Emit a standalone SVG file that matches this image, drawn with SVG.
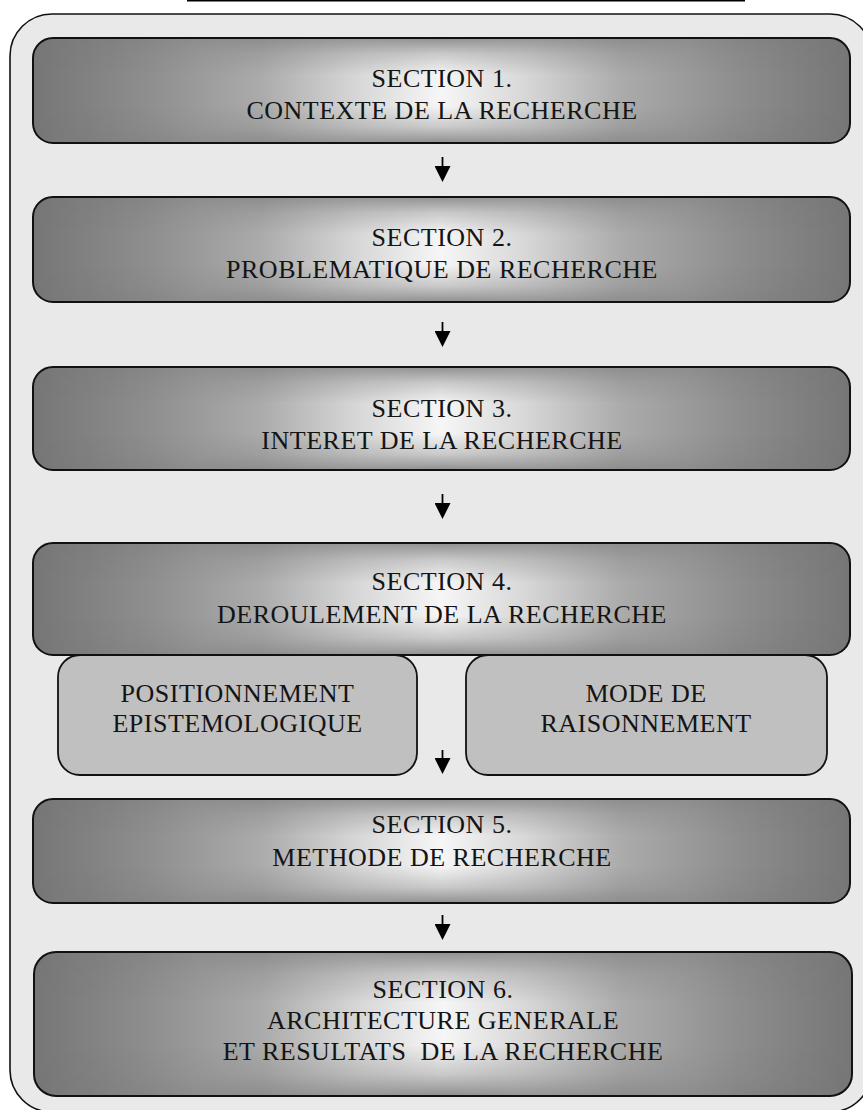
<svg xmlns="http://www.w3.org/2000/svg" width="863" height="1110" viewBox="0 0 863 1110">
  <defs>
    <linearGradient id="secH" x1="0" y1="0" x2="1" y2="0">
      <stop offset="0" stop-color="#767676"/>
      <stop offset="0.14" stop-color="#8e8e8e"/>
      <stop offset="0.28" stop-color="#ababab"/>
      <stop offset="0.40" stop-color="#d8d8d8"/>
      <stop offset="0.5" stop-color="#f6f6f6"/>
      <stop offset="0.60" stop-color="#d8d8d8"/>
      <stop offset="0.72" stop-color="#ababab"/>
      <stop offset="0.86" stop-color="#8e8e8e"/>
      <stop offset="1" stop-color="#767676"/>
    </linearGradient>
    <linearGradient id="secV" x1="0" y1="0" x2="0" y2="1">
      <stop offset="0" stop-color="#000" stop-opacity="0.42"/>
      <stop offset="0.15" stop-color="#000" stop-opacity="0.18"/>
      <stop offset="0.35" stop-color="#000" stop-opacity="0"/>
      <stop offset="0.65" stop-color="#000" stop-opacity="0"/>
      <stop offset="0.85" stop-color="#000" stop-opacity="0.18"/>
      <stop offset="1" stop-color="#000" stop-opacity="0.42"/>
    </linearGradient>
    <linearGradient id="maskH" x1="0" y1="0" x2="1" y2="0">
      <stop offset="0" stop-color="#000"/>
      <stop offset="0.2" stop-color="#333"/>
      <stop offset="0.5" stop-color="#fff"/>
      <stop offset="0.8" stop-color="#333"/>
      <stop offset="1" stop-color="#000"/>
    </linearGradient>
    <mask id="centerMask" maskContentUnits="objectBoundingBox">
      <rect x="0" y="0" width="1" height="1" fill="url(#maskH)"/>
    </mask>
    <marker id="arrowHead" viewBox="0 0 16 16" refX="0" refY="8" markerWidth="16" markerHeight="16" markerUnits="userSpaceOnUse" orient="auto">
      <path d="M0,0 L16,8 L0,16 Z" fill="#000"/>
    </marker>
  </defs>
  <style>
    .outer { fill: #e9e9e9; stroke: #111; stroke-width: 1.6; }
    .sec { fill: url(#secH); stroke: none; }
    .secShade { fill: url(#secV); stroke: none; mask: url(#centerMask); }
    .secEdge { fill: none; stroke: #111; stroke-width: 2; }
    .sub { fill: #c0c0c0; stroke: #111; stroke-width: 1.8; }
    .lbl { font-family: "Liberation Serif", "Times New Roman", serif; font-size: 26px; fill: #141414; text-anchor: middle; letter-spacing: 0.5px; }
    .conn line { stroke: #000; stroke-width: 1.8; }
  </style>

  <line x1="187" y1="0.8" x2="745" y2="0.8" stroke="#000" stroke-width="1.6"/>

  <rect class="outer" x="10" y="14" width="862" height="1098" rx="42" ry="42"/>

  <g id="section1">
    <rect class="sec" x="33" y="38" width="817" height="105" rx="20" ry="20"/>
    <rect class="secShade" x="33" y="38" width="817" height="105" rx="20" ry="20"/>
    <rect class="secEdge" x="33" y="38" width="817" height="105" rx="20" ry="20"/>
    <text class="lbl" x="442" y="87">SECTION 1.</text>
    <text class="lbl" x="442" y="119">CONTEXTE DE LA RECHERCHE</text>
  </g>

  <g id="section2">
    <rect class="sec" x="33" y="197" width="817" height="105" rx="20" ry="20"/>
    <rect class="secShade" x="33" y="197" width="817" height="105" rx="20" ry="20"/>
    <rect class="secEdge" x="33" y="197" width="817" height="105" rx="20" ry="20"/>
    <text class="lbl" x="442" y="246">SECTION 2.</text>
    <text class="lbl" x="442" y="278">PROBLEMATIQUE DE RECHERCHE</text>
  </g>

  <g id="section3">
    <rect class="sec" x="33" y="367" width="817" height="103" rx="20" ry="20"/>
    <rect class="secShade" x="33" y="367" width="817" height="103" rx="20" ry="20"/>
    <rect class="secEdge" x="33" y="367" width="817" height="103" rx="20" ry="20"/>
    <text class="lbl" x="442" y="417">SECTION 3.</text>
    <text class="lbl" x="442" y="449">INTERET DE LA RECHERCHE</text>
  </g>

  <g id="section4">
    <rect class="sec" x="33" y="543" width="817" height="112" rx="20" ry="20"/>
    <rect class="secShade" x="33" y="543" width="817" height="112" rx="20" ry="20"/>
    <rect class="secEdge" x="33" y="543" width="817" height="112" rx="20" ry="20"/>
    <text class="lbl" x="442" y="590">SECTION 4.</text>
    <text class="lbl" x="442" y="623">DEROULEMENT DE LA RECHERCHE</text>
  </g>

  <g id="positionnement">
    <rect class="sub" x="58" y="655" width="359" height="120" rx="22" ry="22"/>
    <text class="lbl" x="237.5" y="702">POSITIONNEMENT</text>
    <text class="lbl" x="237.5" y="732">EPISTEMOLOGIQUE</text>
  </g>

  <g id="raisonnement">
    <rect class="sub" x="466" y="655" width="361" height="120" rx="22" ry="22"/>
    <text class="lbl" x="646" y="702">MODE DE</text>
    <text class="lbl" x="646" y="732">RAISONNEMENT</text>
  </g>

  <g id="section5">
    <rect class="sec" x="33" y="799" width="817" height="104" rx="20" ry="20"/>
    <rect class="secShade" x="33" y="799" width="817" height="104" rx="20" ry="20"/>
    <rect class="secEdge" x="33" y="799" width="817" height="104" rx="20" ry="20"/>
    <text class="lbl" x="442" y="833">SECTION 5.</text>
    <text class="lbl" x="442" y="866">METHODE DE RECHERCHE</text>
  </g>

  <g id="section6">
    <rect class="sec" x="34" y="952" width="818" height="144" rx="22" ry="22"/>
    <rect class="secShade" x="34" y="952" width="818" height="144" rx="22" ry="22"/>
    <rect class="secEdge" x="34" y="952" width="818" height="144" rx="22" ry="22"/>
    <text class="lbl" x="443" y="998">SECTION 6.</text>
    <text class="lbl" x="443" y="1029">ARCHITECTURE GENERALE</text>
    <text class="lbl" x="443" y="1060" xml:space="preserve">ET RESULTATS  DE LA RECHERCHE</text>
  </g>

  <g id="connectors" class="conn">
    <line x1="442.5" y1="157" x2="442.5" y2="166" marker-end="url(#arrowHead)"/>
    <line x1="442.5" y1="322" x2="442.5" y2="331" marker-end="url(#arrowHead)"/>
    <line x1="442.5" y1="494" x2="442.5" y2="503" marker-end="url(#arrowHead)"/>
    <line x1="442.5" y1="750" x2="442.5" y2="758" marker-end="url(#arrowHead)"/>
    <line x1="442.5" y1="915" x2="442.5" y2="924" marker-end="url(#arrowHead)"/>
  </g>
</svg>
